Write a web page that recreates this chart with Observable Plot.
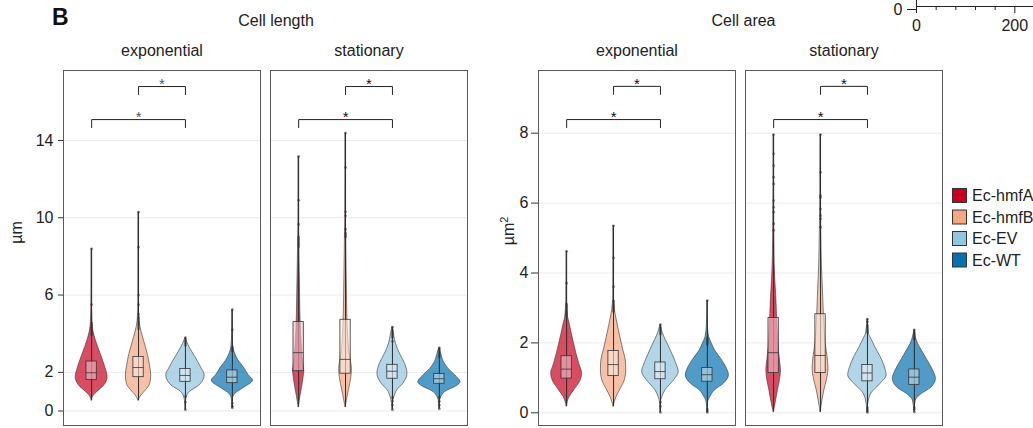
<!DOCTYPE html>
<html><head><meta charset="utf-8">
<script src="https://cdn.jsdelivr.net/npm/d3@7"></script>
<script src="https://cdn.jsdelivr.net/npm/@observablehq/plot@0.6"></script>
<style>
body{margin:0;background:#fff;}
#wrap{position:relative;width:1033px;height:428px;overflow:hidden;background:#fff;}
</style></head><body><div id="wrap"></div>
<script>
// ---------- data ----------
const strains = ["Ec-hmfA", "Ec-hmfB", "Ec-EV", "Ec-WT"];
const phases = ["exponential", "stationary"];
const strainColors = ["#ca0020", "#f4a582", "#92c5de", "#0571b0"];
const lengthTicks = [0, 2, 6, 10, 14];
const areaTicks = [0, 2, 4, 6, 8];
const miniMajorTicks = [0, 200];
const miniMinorTicks = [40, 80, 120, 160];
const bracketLabels = ["*", "*"];

// violin outlines: [value, half-width (in band units)]
const lengthExpProfiles = [
  [[0.54,0],[0.75,0.03],[0.98,0.12],[1.32,0.27],[1.75,0.34],[2.27,0.29],[2.96,0.19],[3.65,0.09],[4.1,0.04],[4.6,0.015],[6,0.004],[8.39,0]],
  [[0.54,0],[0.8,0.06],[1.07,0.16],[1.41,0.25],[1.85,0.27],[2.4,0.24],[2.9,0.2],[3.31,0.155],[3.82,0.095],[4.34,0.04],[4.8,0.015],[6,0.004],[10.29,0]],
  [[0.06,0],[0.5,0.01],[0.8,0.04],[1.06,0.13],[1.23,0.25],[1.58,0.38],[1.84,0.41],[2.27,0.33],[2.79,0.21],[3.31,0.085],[3.66,0.02],[3.79,0]],
  [[0.16,0],[0.6,0.01],[0.88,0.06],[1.14,0.21],[1.58,0.44],[1.84,0.35],[2.27,0.24],[2.62,0.13],[2.96,0.06],[3.3,0.02],[4,0.004],[5.24,0]]
];
const lengthStatProfiles = [
  [[0.2,0],[0.72,0.035],[1.24,0.074],[1.75,0.106],[2.06,0.12],[2.44,0.1],[2.96,0.078],[3.65,0.057],[4.34,0.045],[5.2,0.035],[6.76,0.025],[8.5,0.012],[10,0.004],[13.17,0]],
  [[0.2,0],[0.55,0.028],[1.07,0.07],[1.75,0.124],[2.18,0.135],[2.61,0.113],[3.13,0.078],[3.82,0.055],[4.68,0.04],[6,0.03],[8,0.018],[10,0.008],[12,0.003],[14.38,0]],
  [[0.06,0],[0.4,0.01],[0.72,0.04],[1.06,0.1],[1.41,0.23],[1.92,0.32],[2.44,0.27],[2.96,0.16],[3.48,0.074],[3.99,0.03],[4.34,0]],
  [[0.11,0],[0.5,0.01],[0.72,0.04],[0.98,0.124],[1.32,0.39],[1.49,0.45],[1.84,0.34],[2.18,0.195],[2.53,0.096],[2.96,0.04],[3.27,0]]
];
const areaExpProfiles = [
  [[0.18,0],[0.45,0.064],[0.64,0.16],[0.93,0.3],[1.12,0.33],[1.4,0.27],[1.69,0.21],[1.97,0.16],[2.26,0.11],[2.55,0.064],[2.74,0.03],[3.2,0.008],[4.62,0]],
  [[0.18,0],[0.45,0.064],[0.64,0.135],[0.93,0.24],[1.21,0.27],[1.5,0.26],[1.78,0.21],[2.07,0.16],[2.36,0.113],[2.64,0.07],[2.93,0.03],[3.3,0.008],[5.35,0]],
  [[0.01,0],[0.3,0.01],[0.45,0.04],[0.64,0.106],[0.93,0.29],[1.17,0.39],[1.4,0.34],[1.69,0.25],[1.97,0.155],[2.21,0.07],[2.36,0.03],[2.52,0]],
  [[0.01,0],[0.3,0.015],[0.45,0.064],[0.64,0.16],[0.83,0.35],[1.07,0.46],[1.31,0.4],[1.55,0.29],[1.78,0.165],[1.97,0.1],[2.16,0.04],[2.5,0.01],[3.21,0]]
];
const areaStatProfiles = [
  [[0.02,0],[0.35,0.053],[0.64,0.09],[0.93,0.135],[1.21,0.156],[1.5,0.135],[1.88,0.106],[2.36,0.085],[2.83,0.07],[3.31,0.057],[3.79,0.035],[4.26,0.02],[5.5,0.008],[7.96,0]],
  [[0.02,0],[0.35,0.04],[0.64,0.08],[0.93,0.135],[1.26,0.17],[1.6,0.15],[1.97,0.11],[2.36,0.09],[2.83,0.07],[3.31,0.057],[3.79,0.042],[4.26,0.028],[5.22,0.015],[6.5,0.005],[7.96,0]],
  [[0.01,0],[0.35,0.03],[0.54,0.078],[0.83,0.28],[1.07,0.41],[1.31,0.37],[1.6,0.28],[1.88,0.166],[2.12,0.08],[2.26,0.03],[2.68,0]],
  [[0.02,0],[0.35,0.03],[0.49,0.113],[0.73,0.37],[0.97,0.46],[1.21,0.4],[1.5,0.28],[1.78,0.16],[1.97,0.08],[2.16,0.03],[2.37,0]]
];

// boxplots: [q1, median, q3]
const lengthExpBoxes  = [[1.61,1.98,2.56],[1.75,2.25,2.80],[1.51,1.84,2.17],[1.44,1.75,2.10]];
const lengthStatBoxes = [[2.06,3.02,4.60],[1.93,2.67,4.72],[1.67,2.06,2.39],[1.41,1.67,1.92]];
const areaExpBoxes    = [[0.98,1.25,1.62],[1.05,1.38,1.77],[0.96,1.18,1.44],[0.89,1.09,1.28]];
const areaStatBoxes   = [[1.14,1.72,2.71],[1.14,1.64,2.82],[0.90,1.14,1.37],[0.80,1.02,1.24]];

// outlier points
const lengthExpOutliers = [
  [8.39,5.5,4.55,4.45,4.35,4.25,4.15,4.05,3.95],
  [10.29,8.48,6.0,5.5,5.0,4.85,4.75,4.65,4.55,4.45,4.35,4.25],
  [3.79,3.7,3.6,3.5,3.4,0.06,0.46,0.75],
  [5.24,4.2,3.3,3.2,3.1,0.16,0.25,0.4]
];
const lengthStatOutliers = [
  [13.17,10.9,9.65,9.0,8.9,8.8,8.7,8.6,8.5],
  [14.38,12.6,10.3,10.1,9.4,9.2,9.1,9.0],
  [4.34,4.2,4.1,4.0,3.9,3.8,3.6,0.06,0.3,0.5,0.7],
  [3.27,3.2,3.1,3.0,2.9,2.8,0.11,0.3,0.5,0.7]
];
const areaExpOutliers = [
  [4.62,3.71,3.1,3.05,3.0,2.95,2.9,2.85,2.8,2.75],
  [5.35,4.43,3.61,3.2,3.15,3.1,3.05,3.0,2.95,2.9],
  [2.52,2.45,2.4,2.35,2.3,2.25,0.01,0.18,0.3],
  [3.21,2.15,2.1,2.05,2.0,1.95,0.01,0.05,0.1]
];
const areaStatOutliers = [
  [7.96,7.41,7.07,6.74,6.55,6.07,5.88,5.74,5.41,5.22],
  [7.96,6.88,6.21,6.16,5.83,5.64,5.55,5.31],
  [2.68,2.6,2.5,2.45,2.4,2.35,2.3,0.01,0.05,0.1,0.15],
  [2.37,2.3,2.25,2.2,2.15,2.1,0.02,0.1,0.15]
];

// significance brackets: [from strain #, to strain #, height]
const lengthBrackets = [[2,3,16.79],[1,3,15.08]];
const areaBrackets = [[2,3,9.34],[1,3,8.39]];

// ---------- drawing ----------
const FONT = '"Liberation Sans", Arial, Helvetica, sans-serif';
const wrap = document.getElementById("wrap");
const H = 428, MT = 70, MB = 3;

function metricPlot(cfg) {
  const {profiles, boxesIn, outliers, brackets, ticks, yDomain, width, marginLeft, marginRight, tickSize, tickPadding, starColor} = cfg;
  const pxPerUnit = (H - MT - MB) / (yDomain[1] - yDomain[0]);
  const tip = 8 / pxPerUnit;
  const boxHalf = 0.11;
  const violins = [], boxes = [], dots = [], brk = [], stars = [];
  phases.forEach((phase, pi) => {
    strains.forEach((s, i) => {
      const pos = i + 1;
      const P = profiles[pi][i];
      P.forEach(([v, w]) => violins.push({phase, strain: s, y: v, x1: pos - w, x2: pos + w}));
      const [q1, med, q3] = boxesIn[pi][i];
      boxes.push({phase, strain: s, pos, q1, med, q3, lo: P[0][0], hi: P[P.length - 1][0]});
      outliers[pi][i].forEach(v => dots.push({phase, pos, v}));
    });
    brackets.forEach(([a, b, y], k) => {
      const id = phase + k;
      [[a, y - tip], [a, y], [b, y], [b, y - tip]].forEach(([x, yy]) => brk.push({phase, id, x, y: yy}));
      stars.push({phase, x: (a + b) / 2, y, label: bracketLabels[k], color: starColor[pi]});
    });
  });
  const starMarks = Array.from(new Set(stars.map(d => d.color))).map(c =>
    Plot.text(stars.filter(d => d.color === c), {x: "x", y: "y", text: "label", fx: "phase", dy: -2, fontSize: 15, fill: c}));
  return Plot.plot({
    width, height: H, marginLeft, marginRight, marginTop: MT, marginBottom: MB,
    style: {background: "none", fontFamily: FONT, fontSize: "16px", color: "#222", overflow: "visible"},
    x: {domain: [0.4, 4.6], axis: null},
    y: {domain: yDomain},
    fx: {domain: phases, paddingInner: 0.0482, paddingOuter: 0},
    color: {domain: strains, range: strainColors},
    marks: [
      Plot.gridY(ticks, {stroke: "#ebebeb", strokeOpacity: 1, strokeWidth: 1}),
      Plot.axisY(ticks, {tickSize, tickPadding, label: null, stroke: "#333"}),
      Plot.axisFx({anchor: "top", label: null, tickSize: 0, tickPadding: 15}),
      Plot.areaX(violins, {x1: "x1", x2: "x2", y: "y", z: "strain", fx: "phase", fill: "strain", fillOpacity: 0.7, stroke: "#333", strokeWidth: 0.6, curve: "monotone-y"}),
      Plot.ruleX(boxes, {x: "pos", y1: "lo", y2: "hi", fx: "phase", stroke: "#2a2a2a", strokeWidth: 1}),
      Plot.rect(boxes, {x1: d => d.pos - boxHalf, x2: d => d.pos + boxHalf, y1: "q1", y2: "q3", fx: "phase", fill: "white", fillOpacity: 0.53}),
      Plot.rect(boxes, {x1: d => d.pos - boxHalf, x2: d => d.pos + boxHalf, y1: "q1", y2: "q3", fx: "phase", fill: "strain", fillOpacity: 0.15, stroke: "#333", strokeWidth: 0.8}),
      Plot.ruleY(boxes, {y: "med", x1: d => d.pos - boxHalf, x2: d => d.pos + boxHalf, fx: "phase", stroke: "#333", strokeWidth: 0.8}),
      Plot.dot(dots, {x: "pos", y: "v", fx: "phase", r: 1.4, fill: "#333", fillOpacity: 0.55, stroke: "none"}),
      Plot.line(brk, {x: "x", y: "y", z: "id", fx: "phase", stroke: "#222", strokeWidth: 1}),
      ...starMarks,
      Plot.frame({stroke: "#5a5a5a", strokeWidth: 1})
    ]
  });
}

const lengthPlot = metricPlot({
  profiles: [lengthExpProfiles, lengthStatProfiles],
  boxesIn: [lengthExpBoxes, lengthStatBoxes],
  outliers: [lengthExpOutliers, lengthStatOutliers],
  brackets: lengthBrackets, ticks: lengthTicks,
  yDomain: [-0.75, 17.62], width: 480, marginLeft: 62.7, marginRight: 12,
  tickSize: 5, tickPadding: 5, starColor: ["#555", "#111"]
});
const areaPlot = metricPlot({
  profiles: [areaExpProfiles, areaStatProfiles],
  boxesIn: [areaExpBoxes, areaStatBoxes],
  outliers: [areaExpOutliers, areaStatOutliers],
  brackets: areaBrackets, ticks: areaTicks,
  yDomain: [-0.363, 9.794], width: 475, marginLeft: 57.3, marginRight: 12.7,
  tickSize: 7, tickPadding: 3, starColor: ["#111", "#111"]
});
[[lengthPlot, 0], [areaPlot, 480]].forEach(([el, left]) => {
  el.style.position = "absolute"; el.style.left = left + "px"; el.style.top = "0px";
  wrap.appendChild(el);
});

// cropped neighbouring chart at the top right
const mini = Plot.plot({
  width: 163, height: 40, marginLeft: 46, marginRight: 0, marginTop: 0, marginBottom: 34,
  style: {background: "none", fontFamily: FONT, fontSize: "16px", color: "#222", overflow: "visible"},
  x: {domain: [0, 238]}, y: {domain: [0, 1]},
  marks: [
    Plot.ruleY([0], {stroke: "#222"}),
    Plot.ruleX([0], {stroke: "#222"}),
    Plot.axisX(miniMajorTicks, {tickSize: 7, tickPadding: 6, label: null}),
    Plot.axisX(miniMinorTicks, {tickSize: 4, tickFormat: () => "", label: null}),
    Plot.axisY([0], {tickSize: 9, tickPadding: 5, label: null, dy: 3})
  ]
});
mini.style.position = "absolute"; mini.style.left = "870px"; mini.style.top = "0px";
wrap.appendChild(mini);

// titles, axis labels, legend
const ov = d3.create("svg").attr("width", 1033).attr("height", 428)
  .style("position", "absolute").style("left", "0px").style("top", "0px")
  .style("font-family", FONT).style("overflow", "visible");
ov.append("text").attr("x", 52).attr("y", 25).attr("font-size", 23).attr("font-weight", "bold").attr("fill", "#111").text("B");
ov.append("text").attr("x", 276).attr("y", 25.5).attr("text-anchor", "middle").attr("font-size", 16).attr("fill", "#222").text("Cell length");
ov.append("text").attr("x", 743.5).attr("y", 25.5).attr("text-anchor", "middle").attr("font-size", 16).attr("fill", "#222").text("Cell area");
ov.append("text").attr("transform", "translate(21.5,232.5) rotate(-90)").attr("text-anchor", "middle").attr("font-size", 16).attr("fill", "#222").text("µm");
const a2 = ov.append("text").attr("transform", "translate(513.5,231) rotate(-90)").attr("text-anchor", "middle").attr("font-size", 16).attr("fill", "#222");
a2.append("tspan").text("µm");
a2.append("tspan").attr("font-size", 11).attr("dy", -6).text("2");
const leg = ov.append("g");
strains.forEach((s, i) => {
  const y0 = 188.5 + 21.5 * i;
  leg.append("rect").attr("x", 952.5).attr("y", y0).attr("width", 14).attr("height", 14)
    .attr("fill", strainColors[i]).attr("stroke", "#333").attr("stroke-width", 1);
  leg.append("text").attr("x", 972).attr("y", y0 + 7).attr("dy", "0.36em").attr("font-size", 16).attr("fill", "#222").text(s);
});
wrap.appendChild(ov.node());
</script></body></html>
